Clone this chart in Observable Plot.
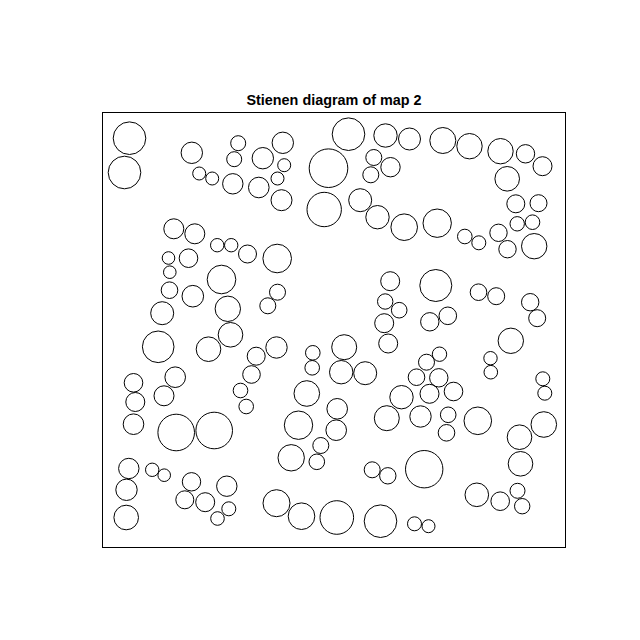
<!DOCTYPE html>
<html>
<head>
<meta charset="utf-8">
<script src="https://cdn.jsdelivr.net/npm/d3@7"></script>
<script src="https://cdn.jsdelivr.net/npm/@observablehq/plot@0.6"></script>
<style>
  html, body { margin: 0; padding: 0; background: #fff; }
</style>
</head>
<body>
<div id="chart"></div>
<script>
const title = "Stienen diagram of map 2";
// window extent (map units)
const xExtent = [0, 463];
const yExtent = [0, 435];
// circle centres and radii (map units)
const cx = [27,22,89.3,135.7,131.7,96.7,109.7,130.3,160.3,180.3,181.7,175,156.3,179,246,226,221.7,283,307,271.3,288,268.3,257.7,275,301.7,340.3,367,398,423,440,404.7,413.3,436,414.7,430,396,405,431.7,334.7,362.3,376.3,71.3,92.3,114.7,128.7,145,66,86,174.7,67.3,67,90.3,119,59.7,125.3,55.7,128,106,72.7,31,32.8,61.5,153.7,149,138,143.7,175,165.3,287.7,282.7,296.7,281.7,285.7,174,210.3,209.7,241.7,238.7,262.7,204.3,234.7,299,333.3,376,393.7,427.7,434.7,327.3,345.3,408.3,337,324,388,388.3,314,336.3,327,351,440.3,442.3,31,73.7,111.7,26.3,24,23.7,49.7,61.7,89,124.3,82.3,102.7,126.3,115,196,233.7,218.3,188.7,214.3,284.3,269.7,285.3,174,199,234.3,278,318,345.7,344,375.3,441.3,417,321.7,418,374.3,397.7,415,419.7,312,326];
const cy = [409.3,375,394.7,404.3,388.3,374,369,363.7,389.3,404.7,382.3,369,360,347.3,413.3,379.3,338,412,408.5,390,380.3,372.7,347.3,330.3,320.3,407,401.3,396.3,393.7,381.3,368.7,343.7,344.3,323.7,325.3,314.7,298.3,301.3,324.3,311,304.7,318.7,313.7,302.3,302.3,293.5,289.5,289.3,289,275.3,257.3,251.3,268,234.3,238.7,200.7,212.7,198.3,170.3,164.7,145.5,151.7,191.3,173,157,141,255.3,241.7,266.3,246,237.3,224.3,204,200,194.7,179.7,200.3,175.3,174.3,154,138.7,150.3,262,255.3,251.3,245.3,229.3,225.7,231.7,206.7,193.3,185.3,189.3,175.3,170.3,169.7,153.7,156,168.7,154.3,123.3,115,117,79,57.7,30,77.7,72.3,65.7,61.3,47.7,45.3,38.7,29,122.3,117.3,102,89.7,85.7,129.3,77.7,71.7,44.3,31.3,30,26.3,131,132.7,114.7,126.7,123,110.3,78.3,83.7,52.7,46.3,56.7,41.3,23.7,21.3];
const cr = [16.3,16.3,10.7,7.5,7.5,6.5,6.5,10.2,10.7,10.7,6.5,6.5,10.3,10.5,16.3,19.3,17.2,11.7,11,8,9.7,8,11.5,11.7,13.3,13,12.7,12.7,9.2,9.5,12.3,9,8.5,7.2,7.3,8.7,8.7,12.7,14.2,7.3,7,10,10,6.7,6.7,9,6.3,9.3,14.3,6.3,8.3,10.8,14.3,11.5,12.7,15.8,12.3,12.3,10.3,9.3,9.5,10,9,8.8,7.3,7.3,8,8,9.5,7.7,7.8,9.5,9.5,10.7,7.3,7.3,12.5,11.7,11.5,12.8,10.3,11.7,16,8.3,8.5,8.7,8.5,9.2,8.8,12.7,7.2,8,6.7,6.8,8.3,9.2,9.5,9.3,7,7,10.3,18.3,18.3,10.2,10.7,12.3,6.7,6.3,9.2,10.2,9,9.5,7,6.8,14.2,10.3,8,13.2,7.8,12.5,8,8.2,13.5,13.3,16.8,16.3,10.7,7.8,8.3,13.8,12.8,12.3,18.7,12.3,11.8,9.3,7.5,7.7,7,6.5];

const circles = cx.map((x, i) => ({x, y: cy[i], r: cr[i]}));

const mL = 102, mR = 75, mT = 112, mB = 93;
const W = 640, H = 640;
const unit = (W - mL - mR) / (xExtent[1] - xExtent[0]); // px per map unit

const chart = Plot.plot({
  width: W,
  height: H,
  marginLeft: mL,
  marginRight: mR,
  marginTop: mT,
  marginBottom: mB,
  x: {domain: xExtent, axis: null},
  y: {domain: yExtent, axis: null},
  r: {type: "linear", domain: [0, 20], range: [0, 20 * unit]},
  style: {fontFamily: "'Liberation Sans', Arial, sans-serif", background: "white"},
  marks: [
    Plot.frame({stroke: "black", strokeWidth: 1}),
    Plot.dot(circles, {x: "x", y: "y", r: "r", stroke: "black", fill: "none", strokeWidth: 1}),
    Plot.text([title], {
      frameAnchor: "top",
      dy: -12.6,
      text: d => d,
      fontSize: 14.4,
      fontWeight: "bold",
      fill: "black",
      lineAnchor: "middle"
    })
  ]
});
document.getElementById("chart").appendChild(chart);
</script>
</body>
</html>
